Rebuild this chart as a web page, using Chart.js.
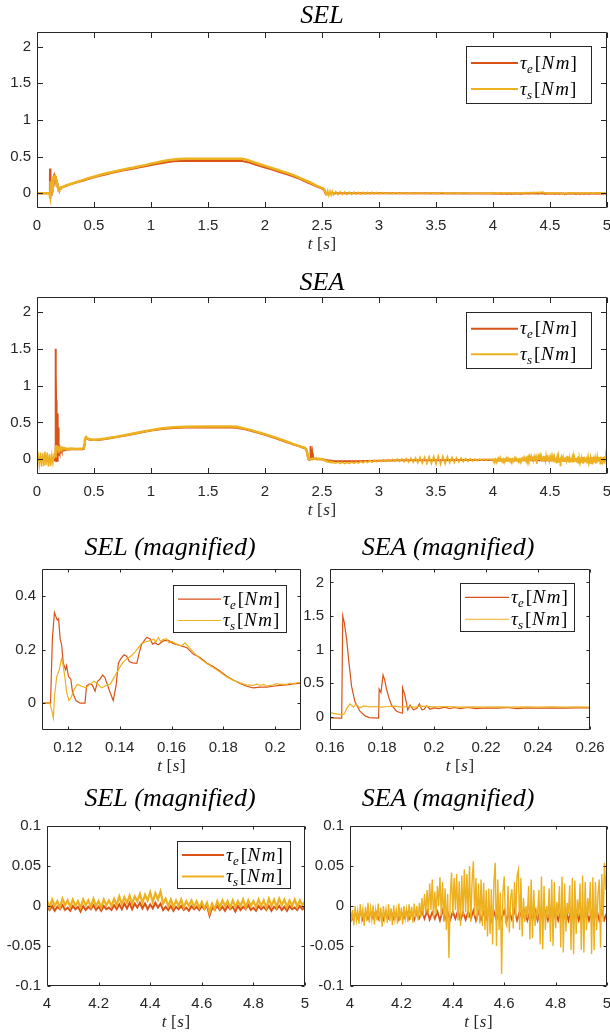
<!DOCTYPE html>
<html>
<head>
<meta charset="utf-8">
<script src="https://cdn.jsdelivr.net/npm/chart.js@4.4.1/dist/chart.umd.min.js"></script>
<style>
  body { margin: 0; background: #fff; width: 610px; height: 1034px; position: relative; overflow: hidden; }
  canvas { position: absolute; left: 0; top: 0; }
</style>
</head>
<body>
<canvas id="c1" width="610" height="1034"></canvas>
<canvas id="c2" width="610" height="1034"></canvas>
<canvas id="c3" width="610" height="1034"></canvas>
<canvas id="c4" width="610" height="1034"></canvas>
<canvas id="c5" width="610" height="1034"></canvas>
<canvas id="c6" width="610" height="1034"></canvas>
<script>
const COL_E = '#D95319';
const COL_S = '#EDB120';

// tick values
const xTicksFull = [0, 0.5, 1, 1.5, 2, 2.5, 3, 3.5, 4, 4.5, 5];
const yTicksFull = [0, 0.5, 1, 1.5, 2];
const xTicksSelMag = [0.12, 0.14, 0.16, 0.18, 0.2];
const yTicksSelMag = [0, 0.2, 0.4];
const xTicksSeaMag = [0.16, 0.18, 0.2, 0.22, 0.24, 0.26];
const yTicksSeaMag = [0, 0.5, 1, 1.5, 2];
const xTicksEnd = [4, 4.2, 4.4, 4.6, 4.8, 5];
const yTicksEnd = [-0.1, -0.05, 0, 0.05, 0.1];

// SEL, start of motion (0.11 - 0.21 s), [t, tau]
const selMagE = [[0.110,0.000],[0.1125,0.001],[0.1133,0.000],[0.1140,0.240],[0.1148,0.338],[0.1154,0.322],[0.1159,0.310],[0.1164,0.315],[0.1170,0.240],[0.1176,0.215],[0.1182,0.150],[0.1191,0.125],[0.1195,0.140],[0.1202,0.100],[0.1211,0.090],[0.1218,0.040],[0.1231,0.010],[0.1247,0.000],[0.1266,0.000],[0.1272,0.065],[0.1283,0.072],[0.1294,0.068],[0.1305,0.045],[0.1314,0.080],[0.1324,0.090],[0.1334,0.105],[0.1343,0.095],[0.1352,0.070],[0.1363,0.040],[0.1375,0.010],[0.1386,0.065],[0.1395,0.150],[0.1404,0.165],[0.1417,0.180],[0.1427,0.175],[0.1437,0.155],[0.1450,0.150],[0.1466,0.148],[0.1476,0.190],[0.1485,0.220],[0.1504,0.245],[0.1517,0.240],[0.1527,0.220],[0.1536,0.225],[0.1549,0.218],[0.1568,0.232],[0.1588,0.234],[0.1607,0.222],[0.1633,0.215],[0.1659,0.207],[0.1684,0.183],[0.1710,0.170],[0.1736,0.150],[0.1762,0.136],[0.1787,0.120],[0.1813,0.100],[0.1839,0.086],[0.1865,0.073],[0.1890,0.063],[0.1916,0.057],[0.1942,0.060],[0.1967,0.060],[0.1993,0.063],[0.2019,0.066],[0.2045,0.068],[0.2070,0.072],[0.2100,0.075]];
const selMagS = [[0.110,0.000],[0.1130,0.000],[0.1137,-0.025],[0.1144,-0.055],[0.1148,0.025],[0.1157,0.100],[0.1167,0.125],[0.1175,0.165],[0.1180,0.150],[0.1188,0.100],[0.1195,0.040],[0.1204,0.010],[0.1212,0.020],[0.1224,0.050],[0.1236,0.070],[0.1253,0.063],[0.1270,0.057],[0.1285,0.070],[0.1301,0.082],[0.1314,0.073],[0.1330,0.057],[0.1347,0.066],[0.1363,0.070],[0.1378,0.095],[0.1395,0.125],[0.1411,0.150],[0.1427,0.165],[0.1443,0.175],[0.1459,0.190],[0.1472,0.207],[0.1485,0.223],[0.1498,0.228],[0.1514,0.232],[0.1532,0.238],[0.1540,0.228],[0.1549,0.245],[0.1558,0.230],[0.1566,0.236],[0.1581,0.240],[0.1590,0.225],[0.1601,0.230],[0.1620,0.220],[0.1639,0.214],[0.1652,0.225],[0.1665,0.212],[0.1684,0.190],[0.1710,0.166],[0.1736,0.148],[0.1762,0.132],[0.1787,0.116],[0.1813,0.098],[0.1839,0.085],[0.1865,0.076],[0.1890,0.068],[0.1916,0.066],[0.1930,0.072],[0.1942,0.066],[0.1955,0.070],[0.1967,0.064],[0.1993,0.068],[0.2005,0.073],[0.2019,0.070],[0.2045,0.070],[0.2058,0.075],[0.2070,0.071],[0.2085,0.076],[0.2100,0.078]];

// SEA, start of motion (0.16 - 0.26 s), [t, tau]
const seaMagE = [[0.16,-0.02],[0.1645,-0.022],[0.1649,1.50],[0.1655,1.40],[0.1664,1.15],[0.1673,0.80],[0.1683,0.45],[0.1696,0.22],[0.1715,0.08],[0.1735,0.01],[0.175,-0.015],[0.1787,-0.022],[0.1789,0.41],[0.1796,0.36],[0.1804,0.62],[0.181,0.55],[0.1818,0.40],[0.1828,0.26],[0.1837,0.17],[0.1856,0.08],[0.1877,0.05],[0.1879,0.43],[0.1888,0.32],[0.1899,0.10],[0.1908,0.17],[0.1921,0.10],[0.1933,0.12],[0.1944,0.19],[0.1953,0.10],[0.1962,0.11],[0.1972,0.16],[0.1985,0.11],[0.2,0.13],[0.202,0.12],[0.204,0.14],[0.206,0.12],[0.208,0.135],[0.21,0.12],[0.213,0.135],[0.216,0.12],[0.22,0.13],[0.224,0.125],[0.228,0.135],[0.232,0.12],[0.236,0.13],[0.24,0.125],[0.245,0.13],[0.25,0.125],[0.255,0.13],[0.26,0.13]];
const seaMagS = [[0.16,0.06],[0.162,0.045],[0.1645,0.025],[0.1655,0.04],[0.1664,0.12],[0.1677,0.19],[0.169,0.14],[0.17,0.185],[0.1715,0.13],[0.173,0.16],[0.175,0.145],[0.1775,0.15],[0.18,0.14],[0.1825,0.15],[0.185,0.155],[0.1875,0.14],[0.19,0.15],[0.1925,0.14],[0.195,0.155],[0.2,0.145],[0.205,0.15],[0.21,0.14],[0.215,0.145],[0.22,0.14],[0.225,0.145],[0.23,0.14],[0.235,0.145],[0.24,0.14],[0.245,0.145],[0.25,0.14],[0.255,0.145],[0.26,0.14]];

// SEL, 4 - 5 s, one sample every 0.01 s
const selEndE = [-0.001,-0.005,0.000,-0.006,-0.001,-0.004,0.001,-0.005,-0.002,-0.006,0.000,-0.004,-0.001,-0.007,0.000,-0.005,-0.001,-0.004,0.001,-0.005,-0.001,-0.006,0.000,-0.004,-0.002,-0.005,0.001,-0.004,
  0.002,-0.004,0.003,-0.003,0.004,-0.004,0.003,-0.002,0.004,-0.003,0.003,-0.004,0.002,-0.003,0.004,-0.002,0.003,-0.005,
  -0.001,-0.005,0.000,-0.006,-0.001,-0.004,0.000,-0.005,-0.002,-0.006,0.000,-0.004,-0.001,-0.005,0.000,
  -0.004,0.001,-0.012,-0.002,-0.005,
  0.000,-0.005,-0.001,-0.006,0.000,-0.004,-0.001,-0.007,0.000,-0.005,-0.001,-0.004,0.001,-0.005,-0.002,-0.006,0.000,-0.004,-0.001,-0.005,0.000,-0.006,-0.001,-0.004,0.000,-0.005,-0.001,-0.006,0.000,-0.004,-0.002,-0.005,0.000,-0.004,-0.001];
const selEndS = [0.007,-0.002,0.008,0.000,0.006,-0.002,0.009,0.001,0.007,-0.001,0.008,0.000,0.006,-0.002,0.008,0.001,0.007,-0.001,0.009,0.000,0.006,-0.002,0.008,0.001,0.007,0.000,0.009,0.001,
  0.012,0.002,0.011,0.004,0.013,0.003,0.012,0.006,0.015,0.004,0.014,0.007,0.017,0.005,0.016,0.008,0.018,0.003,
  0.009,0.000,0.008,-0.001,0.007,0.000,0.008,-0.002,0.006,0.000,0.007,-0.001,0.006,-0.002,0.005,
  -0.003,0.004,-0.008,0.003,-0.004,
  0.006,-0.002,0.007,0.000,0.006,-0.002,0.007,-0.001,0.006,0.000,0.008,-0.002,0.007,0.000,0.006,-0.001,0.008,0.000,0.007,-0.002,0.009,0.000,0.008,-0.001,0.009,0.001,0.008,-0.001,0.007,0.000,0.008,-0.001,0.007,0.001,0.006];

// SEA, 4 - 5 s: tau_e every 0.01 s, tau_s every 0.005 s
const seaEndE = [-0.008,-0.016,-0.009,-0.015,-0.007,-0.017,-0.009,-0.016,-0.008,-0.015,
  -0.007,-0.016,-0.009,-0.017,-0.008,-0.015,-0.007,-0.016,-0.009,-0.017,
  -0.008,-0.015,-0.007,-0.016,-0.009,-0.017,-0.008,-0.015,-0.007,-0.016,
  -0.006,-0.017,-0.008,-0.016,-0.007,-0.018,-0.006,-0.016,-0.008,-0.017,
  -0.007,-0.016,-0.006,-0.018,-0.008,-0.017,-0.007,-0.016,-0.006,-0.018,
  -0.007,-0.017,-0.008,-0.016,-0.006,-0.018,-0.007,-0.017,-0.008,-0.016,
  -0.006,-0.018,-0.007,-0.017,-0.005,-0.018,-0.007,-0.016,-0.006,-0.018,
  -0.007,-0.017,-0.005,-0.018,-0.006,-0.016,-0.007,-0.018,-0.005,-0.017,
  -0.006,-0.018,-0.007,-0.017,-0.005,-0.018,-0.006,-0.016,-0.007,-0.018,
  -0.005,-0.017,-0.006,-0.018,-0.007,-0.016,-0.005,-0.018,-0.006,-0.017,
  -0.008];
const seaEndS = [-0.002,-0.020,-0.005,-0.024,0.000,-0.018,-0.006,-0.022,0.002,-0.016,
  -0.004,-0.025,-0.001,-0.019,0.004,-0.021,-0.003,-0.017,0.001,-0.023,
  -0.005,-0.018,0.003,-0.020,-0.002,-0.026,0.000,-0.016,-0.004,-0.021,
  0.002,-0.019,-0.003,-0.024,0.001,-0.017,-0.005,-0.022,0.003,-0.018,
  -0.002,-0.023,0.000,-0.016,-0.004,-0.020,0.002,-0.017,-0.001,-0.021,
  0.003,-0.015,0.000,-0.018,0.004,-0.014,
  0.010,-0.012,0.015,-0.008,0.020,-0.010,0.028,-0.005,0.033,-0.015,
  0.018,-0.010,0.025,0.000,0.036,-0.012,0.030,-0.020,0.022,-0.030,
  0.015,-0.065,0.010,0.042,-0.010,0.035,-0.005,0.040,-0.018,0.031,
  -0.025,0.038,-0.012,0.046,-0.008,
  0.040,-0.015,0.050,-0.020,0.030,0.056,-0.012,0.035,-0.018,0.028,
  -0.022,0.033,-0.025,0.029,-0.030,0.020,-0.038,0.022,-0.035,0.021,
  -0.048,0.030,0.054,-0.050,0.033,-0.030,0.017,-0.085,0.017,0.037,
  -0.020,-0.025,0.025,-0.033,0.010,0.021,-0.028,0.030,-0.015,0.038,
  0.045,-0.030,0.035,-0.038,0.010,-0.020,0.000,-0.015,0.025,-0.042,
  0.033,-0.040,0.020,-0.025,-0.005,-0.012,0.020,-0.048,0.037,-0.054,
  0.025,-0.030,0.000,-0.015,0.022,-0.045,0.033,-0.050,0.030,-0.028,
  0.005,-0.012,0.025,-0.052,0.037,-0.058,0.028,-0.032,0.004,-0.010,
  0.026,-0.055,0.035,-0.060,0.032,-0.035,0.008,-0.012,0.028,-0.055,
  0.038,-0.058,0.030,-0.030,0.010,-0.010,0.030,-0.060,0.036,-0.055,
  0.030,-0.030,0.015,0.033,-0.052,0.040,-0.020,0.054,0.020,0.045];

// SEL full run, pieces outside the magnified windows, [t, tau]
const selHead = [[0, 0], [0.105, 0]];
const selBodyE = [[0.21,0.075],[0.23,0.085],[0.25,0.10],[0.28,0.115],[0.30,0.125],[0.35,0.15],[0.40,0.172],[0.45,0.195],[0.50,0.218],[0.55,0.24],[0.60,0.258],[0.65,0.276],[0.70,0.293],[0.75,0.31],[0.80,0.326],[0.85,0.34],[0.90,0.355],[0.95,0.37],[1.00,0.385],[1.05,0.40],[1.10,0.415],[1.15,0.428],[1.20,0.436],[1.25,0.44],[1.30,0.442],[1.50,0.442],[1.70,0.442],[1.80,0.44],[1.85,0.425],[1.90,0.40],[1.95,0.375],[2.00,0.352],[2.05,0.33],[2.10,0.305],[2.15,0.28],[2.20,0.255],[2.25,0.23],[2.30,0.20],[2.35,0.165],[2.40,0.13],[2.45,0.095],[2.50,0.065],[2.52,0.04],[2.53,0.0],[2.60,0.0],[3.00,0.0],[4.00,-0.002]];
const selBodyS = [[0.21,0.078],[0.23,0.09],[0.25,0.105],[0.28,0.12],[0.30,0.13],[0.35,0.155],[0.40,0.18],[0.45,0.205],[0.50,0.228],[0.55,0.25],[0.60,0.27],[0.65,0.288],[0.70,0.305],[0.75,0.322],[0.80,0.338],[0.85,0.352],[0.90,0.368],[0.95,0.385],[1.00,0.405],[1.05,0.42],[1.10,0.438],[1.15,0.452],[1.20,0.462],[1.25,0.468],[1.30,0.470],[1.40,0.472],[1.50,0.472],[1.60,0.472],[1.70,0.472],[1.80,0.470],[1.85,0.452],[1.90,0.425],[1.95,0.40],[2.00,0.375],[2.05,0.35],[2.10,0.325],[2.15,0.30],[2.20,0.275],[2.25,0.248],[2.30,0.215],[2.35,0.18],[2.40,0.145],[2.45,0.105],[2.48,0.085],[2.50,0.075],[2.52,0.055],[2.53,0.02],[2.54,-0.03],
  [2.55,0.035],[2.56,-0.028],[2.57,0.03],[2.58,-0.025],[2.59,0.028],[2.60,-0.022],[2.62,0.025],[2.64,-0.02],[2.66,0.022],[2.68,-0.018],[2.70,0.02],[2.72,-0.016],[2.74,0.018],[2.76,-0.014],[2.78,0.017],[2.80,-0.012],[2.82,0.016],[2.84,-0.012],[2.86,0.015],[2.88,-0.01],[2.90,0.015],[2.92,-0.01],[2.94,0.014],[2.96,-0.008],[2.98,0.013],[3.00,-0.008],[3.03,0.012],[3.06,-0.006],[3.09,0.011],[3.12,-0.006],[3.15,0.01],[3.18,-0.005],[3.21,0.01],[3.24,-0.005],[3.27,0.009],[3.30,-0.004],[3.35,0.008],[3.40,-0.004],[3.45,0.009],[3.50,-0.004],[3.55,0.01],[3.60,-0.004],[3.65,0.009],[3.70,-0.003],[3.75,0.008],[3.80,-0.003],[3.85,0.006],[3.90,-0.002],[3.95,0.005],[4.00,0.002]];

// SEA full run, pieces outside the magnified windows
const seaHeadE = [[0, 0], [0.15, 0], [0.16, -0.02]];
const seaHeadS = [0.00,0.06,-0.08,0.09,-0.10,0.08,-0.09,0.10,-0.08,0.09,-0.10,0.07,-0.09,0.06,-0.05,0.07,0.06]; // every 0.01 s from 0
const seaBodyE = [[0.26,0.13],[0.30,0.135],[0.40,0.135],[0.41,0.14],[0.415,0.19],[0.42,0.26],[0.43,0.29],[0.44,0.28],[0.46,0.265],[0.50,0.26],[0.55,0.265],[0.60,0.275],[0.70,0.30],[0.80,0.33],[0.90,0.36],[1.00,0.39],[1.10,0.41],[1.20,0.425],[1.30,0.43],[1.50,0.432],[1.70,0.432],[1.75,0.428],[1.80,0.415],[1.90,0.375],[2.00,0.33],[2.10,0.28],[2.20,0.228],[2.25,0.198],[2.30,0.175],[2.33,0.16],[2.35,0.15],[2.36,0.135],[2.37,0.08],[2.38,0.0],[2.39,-0.01],[2.395,0.0],[2.40,0.18],[2.405,0.03],[2.41,0.02],[2.415,0.08],[2.42,0.01],[2.45,0.0],[2.50,0.0],[2.55,-0.015],[2.60,-0.025],[2.80,-0.028],[3.00,-0.02],[3.20,-0.015],[3.50,-0.012],[4.00,-0.008]];
const seaBodyS = [[0.26,0.14],[0.30,0.145],[0.35,0.14],[0.40,0.145],[0.41,0.15],[0.415,0.20],[0.42,0.27],[0.43,0.30],[0.44,0.285],[0.46,0.27],[0.50,0.265],[0.55,0.27],[0.60,0.28],[0.70,0.305],[0.80,0.335],[0.90,0.365],[1.00,0.395],[1.10,0.42],[1.20,0.435],[1.30,0.442],[1.50,0.445],[1.70,0.444],[1.75,0.44],[1.80,0.425],[1.90,0.385],[2.00,0.34],[2.10,0.29],[2.20,0.235],[2.25,0.205],[2.30,0.18],[2.33,0.165],[2.35,0.155],[2.36,0.14],[2.37,0.09],[2.38,0.01],[2.39,0.0],[2.45,0.01],[2.50,0.0],[2.55,-0.03],[2.60,-0.045]];
const seaTailS = [-0.055,-0.040,-0.058,-0.042,-0.060,-0.045,-0.058,-0.040,-0.055,-0.038,
  -0.052,-0.030,-0.048,-0.025,-0.045,-0.018,-0.040,-0.012,-0.035,-0.010,
  -0.032,-0.005,-0.030,-0.002,-0.028,0.000,-0.030,0.005,-0.032,0.008,
  -0.035,0.012,-0.040,0.015,-0.042,0.020,-0.048,0.028,-0.055,0.030,
  -0.060,0.035,-0.058,0.040,-0.068,0.045,-0.070,0.042,-0.062,0.038,
  -0.050,0.028,-0.045,0.022,-0.040,0.020,-0.035,0.012,-0.030,0.008,
  -0.025,0.005,-0.020,0.002,-0.015,0.000,-0.012,-0.002,-0.008]; // every 0.02 s from 2.62

function pairs(arr) {
  return arr.map(p => ({ x: p[0], y: p[1] }));
}
function sampled(t0, dt, vals) {
  return vals.map((v, i) => ({ x: +(t0 + i * dt).toFixed(4), y: v }));
}

const panels = [
  { id: 'c1', box: [37, 32, 607, 208], x: [0, 5], y: [-0.2, 2.2], xt: xTicksFull, yt: yTicksFull,
    title: 'SEL', tx: 322, ty: 14, tl: 5.5, lw: [2, 2.5], thin: t => t >= 2.54, legend: [466, 46, 125, 57, 47], llw: 2,
    e: [...pairs(selHead), ...pairs(selMagE), ...pairs(selBodyE), ...sampled(4, 0.01, selEndE)],
    s: [...pairs(selHead), ...pairs(selMagS), ...pairs(selBodyS), ...sampled(4, 0.01, selEndS)] },
  { id: 'c2', box: [37, 297, 607, 474], x: [0, 5], y: [-0.2, 2.2], xt: xTicksFull, yt: yTicksFull,
    title: 'SEA', tx: 322, ty: 281, tl: 5.5, lw: [2, 2.5], thin: t => t < 0.16 || t >= 2.6, legend: [466, 312, 125, 56, 47], llw: 2,
    e: [...pairs(seaHeadE), ...pairs(seaMagE), ...pairs(seaBodyE), ...sampled(4, 0.01, seaEndE)],
    s: [...sampled(0, 0.01, seaHeadS), ...pairs(seaMagS), ...pairs(seaBodyS), ...sampled(2.62, 0.02, seaTailS), ...sampled(4, 0.005, seaEndS)] },
  { id: 'c3', box: [42, 569, 301, 730], x: [0.11, 0.21], y: [-0.1, 0.5], xt: xTicksSelMag, yt: yTicksSelMag,
    title: 'SEL (magnified)', tx: 170, ty: 546, tl: 3, lw: [1.2, 1.2], legend: [173, 585, 113, 47, 43], llw: 1.2,
    e: pairs(selMagE), s: pairs(selMagS) },
  { id: 'c4', box: [330, 569, 590, 730], x: [0.16, 0.26], y: [-0.2, 2.2], xt: xTicksSeaMag, yt: yTicksSeaMag,
    title: 'SEA (magnified)', tx: 448, ty: 546, tl: 3, lw: [1.2, 1.2], legend: [460, 583, 114, 48, 44], llw: 1.2,
    e: pairs(seaMagE), s: pairs(seaMagS) },
  { id: 'c5', box: [47, 826, 305, 986], x: [4, 5], y: [-0.1, 0.1], xt: xTicksEnd, yt: yTicksEnd,
    title: 'SEL (magnified)', tx: 170, ty: 797, tl: 3, lw: [2, 2.2], legend: [177, 841, 113, 47, 42], llw: 2,
    e: sampled(4, 0.01, selEndE), s: sampled(4, 0.01, selEndS) },
  { id: 'c6', box: [350, 826, 607, 986], x: [4, 5], y: [-0.1, 0.1], xt: xTicksEnd, yt: yTicksEnd,
    title: 'SEA (magnified)', tx: 448, ty: 797, tl: 3, lw: [1.8, 1.4], legend: null,
    e: sampled(4, 0.01, seaEndE), s: sampled(4, 0.005, seaEndS) }
];

const AXH = 40;
const SERIF = '"Liberation Serif", "Times New Roman", serif';

function drawPieces(c, x, y, parts) {
  parts.forEach(([s, font, dy, gap]) => {
    c.font = font;
    c.fillText(s, x, y + dy);
    x += c.measureText(s).width + gap;
  });
}
function piecesWidth(c, parts) {
  let w = 0;
  parts.forEach(([s, font, dy, gap]) => { c.font = font; w += c.measureText(s).width + gap; });
  return w;
}
function tauLabel(sub) {
  const it = 'italic 19px ' + SERIF, up = '19px ' + SERIF, sm = 'italic 13px ' + SERIF;
  return [['τ', it, 0, 0.3], [sub, sm, 4, 1.8], ['[', up, 0, 0.6], ['N', it, 0, 1.6], ['m', it, 0, 1.0], [']', up, 0, 0]];
}

function framePlugin(p) {
  return {
    id: 'frame',
    afterDraw(chart) {
      const c = chart.ctx, a = chart.chartArea;
      const xs = chart.scales.x, ys = chart.scales.y;
      c.save();
      c.strokeStyle = '#262626';
      c.lineWidth = 1;
      const L = Math.round(a.left) + 0.5, R = Math.round(a.right) - 0.5;
      const T = Math.round(a.top) + 0.5, B = Math.round(a.bottom) - 0.5;
      c.beginPath();
      c.rect(L, T, R - L, B - T);
      p.xt.forEach(v => {
        const px = Math.round(xs.getPixelForValue(v)) + 0.5;
        c.moveTo(px, B); c.lineTo(px, B - p.tl);
        c.moveTo(px, T); c.lineTo(px, T + p.tl);
      });
      p.yt.forEach(v => {
        const py = Math.round(ys.getPixelForValue(v)) + 0.5;
        c.moveTo(L, py); c.lineTo(L + p.tl, py);
        c.moveTo(R, py); c.lineTo(R - p.tl, py);
      });
      c.stroke();

      // legend
      if (p.legend) {
        const [lx, ly, lw, lh, ll] = p.legend;
        c.fillStyle = '#fff';
        c.fillRect(lx, ly, lw, lh);
        c.strokeStyle = '#262626';
        c.strokeRect(lx + 0.5, ly + 0.5, lw, lh);
        const rows = [ly + lh * 0.3, ly + lh * 0.755];
        [[COL_E, 'e'], [COL_S, 's']].forEach(([col, sub], i) => {
          c.strokeStyle = col;
          c.lineWidth = p.llw;
          c.beginPath();
          c.moveTo(lx + 5, rows[i]);
          c.lineTo(lx + 5 + ll, rows[i]);
          c.stroke();
          c.fillStyle = '#000';
          c.textAlign = 'left';
          c.textBaseline = 'alphabetic';
          drawPieces(c, lx + 7 + ll, rows[i] + 5.5, tauLabel(sub));
        });
      }

      // title
      c.fillStyle = '#000';
      c.textAlign = 'center';
      c.textBaseline = 'alphabetic';
      c.font = 'italic 26px ' + SERIF;
      c.fillText(p.title, p.tx, p.ty + 8.5);

      // x axis label
      const lab = [['t', 'italic 17px ' + SERIF, 0, 4.5], ['[', '17px ' + SERIF, 0, 0.5], ['s', 'italic 17px ' + SERIF, 0, 0.8], [']', '17px ' + SERIF, 0, 0]];
      c.textAlign = 'left';
      c.fillStyle = '#262626';
      const w = piecesWidth(c, lab);
      drawPieces(c, (a.left + a.right) / 2 - w / 2, a.bottom + 41, lab);
      c.restore();
    }
  };
}

function makeChart(p) {
  const [L, T, R, B] = p.box;
  const axw = Math.min(L, 48);
  const tickFont = { family: '"Liberation Sans", Arial, sans-serif', size: 15 };
  const thinSeg = p.thin ? { borderWidth: ctx => (p.thin(ctx.p0.parsed.x) ? 1.5 : undefined) } : undefined;
  new Chart(document.getElementById(p.id), {
    type: 'line',
    data: {
      datasets: [
        { label: 'tau_e', data: p.e, borderColor: COL_E, borderWidth: p.lw[0], pointRadius: 0, tension: 0, order: 2, clip: 0 },
        { label: 'tau_s', data: p.s, borderColor: COL_S, borderWidth: p.lw[1], pointRadius: 0, tension: 0, order: 1, clip: 0, segment: thinSeg }
      ]
    },
    options: {
      responsive: false,
      animation: false,
      events: [],
      layout: { padding: { left: L - axw, top: T, right: 610 - R, bottom: 1034 - B - AXH } },
      plugins: { legend: { display: false }, tooltip: { enabled: false }, title: { display: false } },
      scales: {
        x: {
          type: 'linear', min: p.x[0], max: p.x[1],
          afterBuildTicks: s => { s.ticks = p.xt.map(v => ({ value: v })); },
          afterFit: s => { s.height = AXH; s.paddingLeft = 0; s.paddingRight = 0; },
          grid: { display: false, drawTicks: false },
          border: { display: false },
          ticks: { padding: 9, color: '#262626', font: tickFont, maxRotation: 0, autoSkip: false, callback: v => String(v) }
        },
        y: {
          type: 'linear', min: p.y[0], max: p.y[1],
          afterBuildTicks: s => { s.ticks = p.yt.map(v => ({ value: v })); },
          afterFit: s => { s.width = axw; s.paddingTop = 0; s.paddingBottom = 0; },
          grid: { display: false, drawTicks: false },
          border: { display: false },
          ticks: { padding: 6, color: '#262626', font: tickFont, autoSkip: false, callback: v => String(v) }
        }
      }
    },
    plugins: [framePlugin(p)]
  });
}

panels.forEach(makeChart);
</script>
</body>
</html>
